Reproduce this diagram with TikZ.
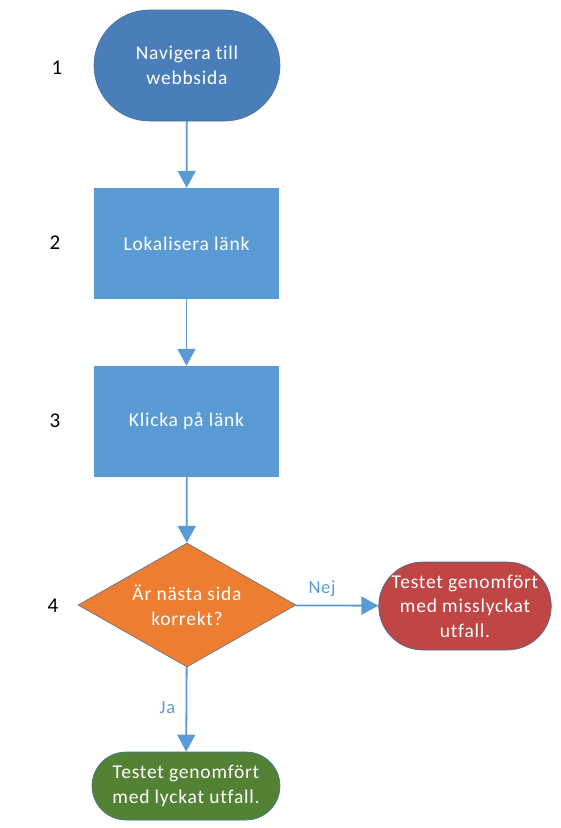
\documentclass[tikz,border=0pt]{standalone}
\usepackage{fontspec}
\setmainfont{Carlito}[LetterSpace=4,Ligatures=NoCommon]
\usetikzlibrary{shapes.geometric,shapes.misc,arrows.meta}
\definecolor{termblue}{HTML}{4A7EBB}
\definecolor{stepblue}{HTML}{5B9BD5}
\definecolor{decorange}{HTML}{ED7D31}
\definecolor{failred}{HTML}{C04545}
\definecolor{passgreen}{HTML}{548235}
\definecolor{edgeblue}{HTML}{41719C}
\begin{document}
\begin{tikzpicture}[x=1pt,y=-1pt,
  every node/.style={font=\fontsize{19.5}{24.5}\selectfont},
  boxtext/.style={text=white,align=center,inner sep=0pt},
  terminal/.style={boxtext,rounded rectangle,draw=edgeblue,line width=0.6pt},
  stepbox/.style={boxtext,rectangle,fill=stepblue,minimum width=185pt,minimum height=111pt},
  decision/.style={boxtext,diamond,fill=decorange,draw=edgeblue,line width=0.5pt,minimum width=218pt,minimum height=124pt,aspect=1.76},
  stepnum/.style={font=\fontsize{21}{24}\selectfont,text=black},
  flow/.style={draw=stepblue,line width=1.8pt,-{Triangle[length=17pt,width=18pt]}},
  edgelabel/.style={text=stepblue,font=\fontsize{18.5}{20}\selectfont}]
\useasboundingbox (0,0) rectangle (561,828);
\fill[white] (0,0) rectangle (561,828);

% flow steps
\node[terminal,fill=termblue,minimum width=186pt,minimum height=111pt] (nav) at (187,65.5) {Navigera till\\webbsida};
\node[stepbox] (find) at (186.5,243.5) {Lokalisera länk};
\node[stepbox] (click) at (186.5,421.5) {Klicka på länk};
\node[decision] (check) at (187,605) {Är nästa sida\\korrekt?};
\node[terminal,fill=failred,minimum width=170pt,minimum height=88pt] (fail) at (465,606) {Testet genomfört\\med misslyckat\\utfall.};
\node[terminal,fill=passgreen,minimum width=188pt,minimum height=68pt] (pass) at (186,786) {Testet genomfört\\med lyckat utfall.};

% step numbers
\node[stepnum] (n1) at (57,68) {1};
\node[stepnum] (n2) at (55,243) {2};
\node[stepnum] (n3) at (55,421) {3};
\node[stepnum] (n4) at (53,606) {4};

% connectors
\draw[flow] (nav) -- (find);
\draw[flow] (find) -- (click);
\draw[flow] (click) -- (check);
\draw[flow] (check) -- node[edgelabel,above=5pt,pos=0.32] (nej) {Nej} (fail);
\draw[flow] (check) -- node[edgelabel,left=7pt,pos=0.48] (ja) {Ja} (pass);
\end{tikzpicture}
\end{document}
